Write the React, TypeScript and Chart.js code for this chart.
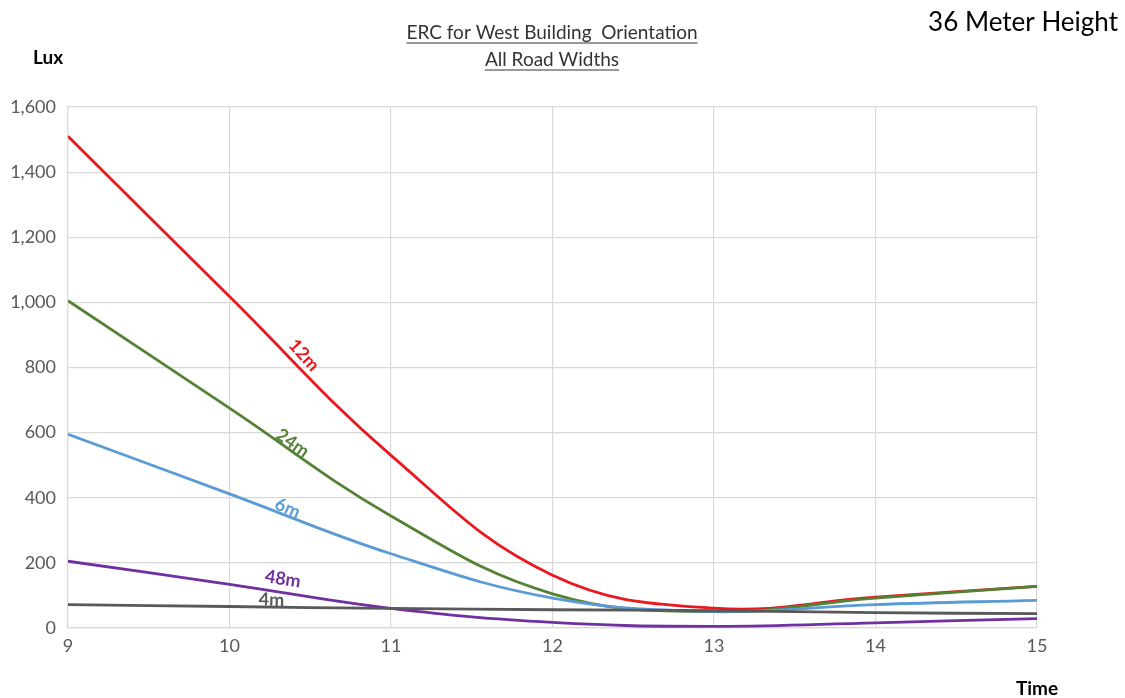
import React, { useEffect, useRef } from "react";
import { Chart, registerables } from "chart.js";

Chart.register(...registerables);

const hours = [9, 10, 11, 12, 13, 14, 15];
const road12m = [1510, 1018, 530, 162, 61, 95, 128];
const road24m = [1005, 675, 344, 105, 50, 92, 128];
const road6m = [595, 412, 228, 92, 51, 72, 85];
const road48m = [205, 134, 60, 17, 5, 16, 29];
const road4m = [72, 66, 60, 56, 53, 47, 44];
const yTicks = [0, 200, 400, 600, 800, 1000, 1200, 1400, 1600];

const seriesNames = ["12m", "24m", "6m", "48m", "4m"];
const seriesColors = ["#e8191f", "#548235", "#5b9bd5", "#7030a0", "#595959"];
// label anchor (x in hours, y in lux) and rotation in degrees
const labelX = [10.46, 10.39, 10.36, 10.33, 10.26];
const labelY = [838, 568, 368, 150, 86];
const labelRot = [48, 35, 24, 9, 2];

const FONT = "Lato, 'Open Sans', 'Noto Sans', sans-serif";

const textPlugin = {
  id: "textPlugin",
  afterDraw(chart: any) {
    const ctx = chart.ctx as CanvasRenderingContext2D;
    const xs = chart.scales.x;
    const ys = chart.scales.y;
    ctx.save();
    // titles
    ctx.fillStyle = "#333333";
    ctx.strokeStyle = "#333333";
    ctx.font = `19px ${FONT}`;
    ctx.textAlign = "center";
    ctx.textBaseline = "alphabetic";
    const titles = ["ERC for West Building  Orientation", "All Road Widths"];
    const ty = [39, 66];
    titles.forEach((t, i) => {
      const cx = 552;
      ctx.fillText(t, cx, ty[i]);
      const w = ctx.measureText(t).width;
      ctx.lineWidth = 1;
      ctx.beginPath();
      ctx.moveTo(cx - w / 2, ty[i] + 4);
      ctx.lineTo(cx + w / 2, ty[i] + 4);
      ctx.stroke();
    });
    // top right
    ctx.fillStyle = "#000000";
    ctx.font = `26px ${FONT}`;
    ctx.textAlign = "right";
    ctx.fillText("36 Meter Height", 1118, 31);
    // axis titles
    ctx.font = `bold 19px ${FONT}`;
    ctx.textAlign = "center";
    ctx.fillText("Lux", 48, 64);
    ctx.fillText("Time", 1037, 695);
    // series labels
    ctx.font = `bold 18px ${FONT}`;
    ctx.textBaseline = "middle";
    seriesNames.forEach((n, i) => {
      const px = xs.getPixelForValue(labelX[i]);
      const py = ys.getPixelForValue(labelY[i]);
      ctx.save();
      ctx.translate(px, py);
      ctx.rotate((labelRot[i] * Math.PI) / 180);
      ctx.fillStyle = seriesColors[i];
      ctx.fillText(n, 0, 0);
      ctx.restore();
    });
    ctx.restore();
  },
};

export default function App() {
  const ref = useRef<HTMLCanvasElement | null>(null);
  useEffect(() => {
    if (!ref.current) return;
    const data = [road12m, road24m, road6m, road48m, road4m];
    const order = [4, 3, 2, 1, 0];
    const chart = new Chart(ref.current, {
      type: "line",
      data: {
        datasets: order.map((i) => ({
          label: seriesNames[i],
          data: hours.map((h, k) => ({ x: h, y: data[i][k] })),
          borderColor: seriesColors[i],
          backgroundColor: seriesColors[i],
          borderWidth: 2.8,
          pointRadius: 0,
          tension: 0.4,
          fill: false,
        })),
      },
      options: {
        animation: false,
        responsive: false,
        maintainAspectRatio: false,
        layout: { padding: { left: 8, top: 107, right: 88, bottom: 0 } },
        plugins: {
          legend: { display: false },
          tooltip: { enabled: false },
          title: { display: false },
        },
        scales: {
          x: {
            type: "linear",
            min: 9,
            max: 15,
            ticks: {
              stepSize: 1,
              color: "#595959",
              font: { size: 18, family: FONT },
              padding: 7,
            },
            grid: { color: "#d9d9d9", lineWidth: 1.2, drawTicks: false },
            border: { color: "#d9d9d9", width: 1.2 },
            afterFit: (s: any) => {
              s.height = 70;
            },
          },
          y: {
            type: "linear",
            min: 0,
            max: 1600,
            afterBuildTicks: (s: any) => {
              s.ticks = yTicks.map((v) => ({ value: v }));
            },
            ticks: {
              color: "#595959",
              font: { size: 18, family: FONT },
              padding: 12,
              callback: (v: any) => Number(v).toLocaleString("en-US"),
            },
            grid: { color: "#d9d9d9", lineWidth: 1.2, drawTicks: false },
            border: { color: "#d9d9d9", width: 1.2 },
            afterFit: (s: any) => {
              s.width = 60;
            },
          },
        },
      },
      plugins: [textPlugin],
    } as any);
    return () => chart.destroy();
  }, []);
  return (
    <div style={{ position: "absolute", left: 0, top: 0, width: 1125, height: 698, background: "#fff" }}>
      <canvas ref={ref} width={1125} height={698} style={{ display: "block" }} />
    </div>
  );
}
